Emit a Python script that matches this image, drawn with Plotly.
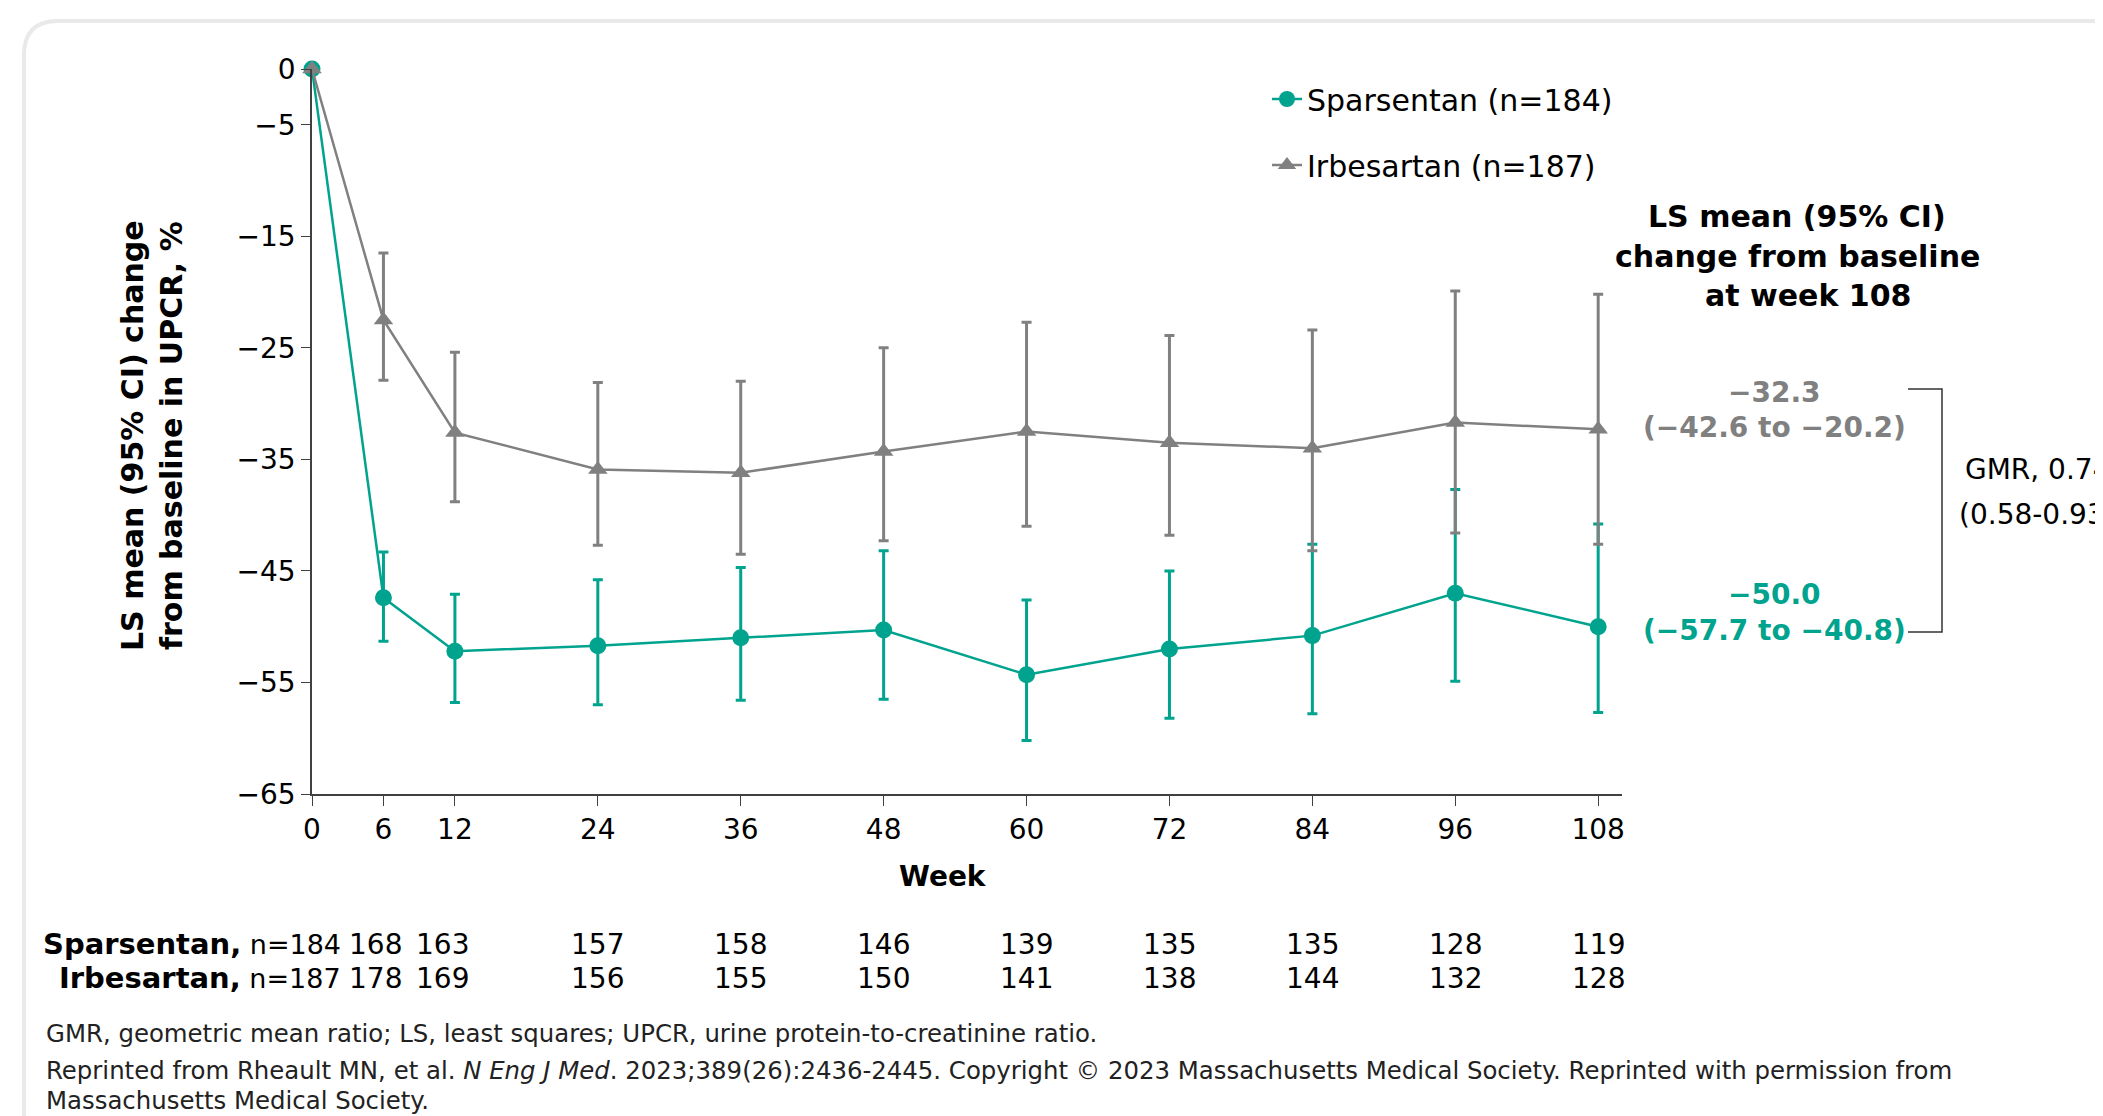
import plotly.graph_objects as go

# ---------------- data ----------------
weeks = [0, 6, 12, 24, 36, 48, 60, 72, 84, 96, 108]
week_ticks = [0, 6, 12, 24, 36, 48, 60, 72, 84, 96, 108]
y_ticks = [0, -5, -15, -25, -35, -45, -55, -65]

spars_mean = [0, -47.4, -52.2, -51.7, -51.0, -50.3, -54.3, -52.0, -50.8, -47.0, -50.0]
spars_ci_lo = [None, -51.3, -56.8, -57.0, -56.6, -56.5, -60.2, -58.2, -57.8, -54.9, -57.7]
spars_ci_hi = [None, -43.3, -47.1, -45.8, -44.7, -43.2, -47.6, -45.0, -42.6, -37.7, -40.8]

irb_mean = [0, -22.5, -32.6, -35.9, -36.2, -34.3, -32.5, -33.5, -34.0, -31.7, -32.3]
irb_ci_lo = [None, -27.9, -38.8, -42.7, -43.5, -42.3, -41.0, -41.8, -43.2, -41.6, -42.6]
irb_ci_hi = [None, -16.5, -25.4, -28.1, -28.0, -25.0, -22.7, -23.9, -23.4, -19.9, -20.2]

spars_n = [184, 168, 163, 157, 158, 146, 139, 135, 135, 128, 119]
irb_n = [187, 178, 169, 156, 155, 150, 141, 138, 144, 132, 128]

spars_name = "Sparsentan (n=184)"
irb_name = "Irbesartan (n=187)"

TEAL = "#00A38E"
GRAY = "#808080"
FONT = "Verdana, DejaVu Sans, sans-serif"

# ---------------- layout geometry (page pixels) ----------------
OFF = 8                      # default body margin of the html page
W, H = 2103 - OFF, 1116 - OFF
PL, PR, PT, PB = 312, 1622, 69, 794   # plot area in page pixels
L, R, T, B = PL - OFF, PR - OFF, PT - OFF, PB - OFF


def px(xp):
    return (xp - PL) / (PR - PL)


def py(yp):
    return (PB - yp) / (PB - PT)


def err(mean, lo, hi):
    plus = [None if h is None else h - m for m, h in zip(mean, hi)]
    minus = [None if l is None else m - l for m, l in zip(mean, lo)]
    return plus, minus


sp_plus, sp_minus = err(spars_mean, spars_ci_lo, spars_ci_hi)
ir_plus, ir_minus = err(irb_mean, irb_ci_lo, irb_ci_hi)

fig = go.Figure()
fig.add_trace(go.Scatter(
    x=weeks, y=spars_mean, name=spars_name, mode="lines+markers",
    line=dict(color=TEAL, width=2.5),
    marker=dict(symbol="circle", size=17, color=TEAL),
    error_y=dict(type="data", array=sp_plus, arrayminus=sp_minus, symmetric=False,
                 color=TEAL, thickness=3, width=5),
    cliponaxis=False, legendgroup="a",
))
fig.add_trace(go.Scatter(
    x=weeks, y=irb_mean, name=irb_name, mode="lines+markers",
    line=dict(color=GRAY, width=2.5),
    marker=dict(symbol="triangle-up", size=17, color=GRAY),
    error_y=dict(type="data", array=ir_plus, arrayminus=ir_minus, symmetric=False,
                 color=GRAY, thickness=3, width=5),
    cliponaxis=False, legendgroup="b",
))

ann = []
# y-axis title
ann.append(dict(text="<b>LS mean (95% CI) change</b><br><b>from baseline in UPCR, %</b>",
                xref="paper", yref="paper", x=px(152), y=py(436), textangle=-90,
                showarrow=False, font=dict(size=30, color="black"), xanchor="center",
                yanchor="middle", align="center"))
# x-axis title
ann.append(dict(text="<b>Week</b>", xref="paper", yref="paper", x=px(943), y=py(876),
                showarrow=False, font=dict(size=28, color="black"), xanchor="center", yanchor="middle"))

# right-hand header
for t, yy, xs in [("LS mean (95% CI)", 216, 0), ("change from baseline", 256, 0), ("at week 108", 295, 11)]:
    ann.append(dict(text="<b>" + t + "</b>", xref="paper", yref="paper", x=px(1797), y=py(yy),
                    xshift=xs, showarrow=False, font=dict(size=30, color="black"),
                    xanchor="center", yanchor="middle"))


def fmt(v):
    return ("−" if v < 0 else "") + f"{abs(v):.1f}"


for t, yy, col in [(fmt(irb_mean[-1]), 393, GRAY),
                   (f"({fmt(irb_ci_lo[-1])} to {fmt(irb_ci_hi[-1])})", 428, GRAY),
                   (fmt(spars_mean[-1]), 594, TEAL),
                   (f"({fmt(spars_ci_lo[-1])} to {fmt(spars_ci_hi[-1])})", 630, TEAL)]:
    ann.append(dict(text="<b>" + t + "</b>", xref="paper", yref="paper", x=px(1774), y=py(yy),
                    showarrow=False, font=dict(size=28, color=col), xanchor="center", yanchor="middle"))

for t, yy in [("GMR, 0.74", 469), ("(0.58-0.93)", 515)]:
    ann.append(dict(text=t, xref="paper", yref="paper", x=px(2037), y=py(yy),
                    showarrow=False, font=dict(size=28, color="black"), xanchor="center", yanchor="middle"))

# numbers at risk table
shift = {6: -8, 12: -12}
for label, counts, yy in [("Sparsentan,", spars_n, 944), ("Irbesartan,", irb_n, 978)]:
    ann.append(dict(text=f"<b><span style='font-size:29px'>{label}</span></b> n={counts[0]}",
                    xref="x", yref="paper", x=weeks[0],
                    y=py(yy), xshift=31, showarrow=False, font=dict(size=27, color="black"),
                    xanchor="right", yanchor="middle"))
    for w, c in zip(weeks[1:], counts[1:]):
        ann.append(dict(text=str(c), xref="x", yref="paper", x=w, y=py(yy),
                        xshift=shift.get(w, 0), showarrow=False,
                        font=dict(size=28, color="black"), xanchor="center", yanchor="middle"))

# footnotes
for t, yy in [("GMR, geometric mean ratio; LS, least squares; UPCR, urine protein-to-creatinine ratio.", 1033),
              ("Reprinted from Rheault MN, et al. <i>N Eng J Med</i>. 2023;389(26):2436-2445. Copyright © 2023 "
               "Massachusetts Medical Society. Reprinted with permission from", 1070),
              ("Massachusetts Medical Society.", 1100)]:
    ann.append(dict(text=t, xref="paper", yref="paper", x=px(44), y=py(yy), showarrow=False,
                    font=dict(size=24.4, color="#222222"), xanchor="left", yanchor="middle"))

shapes = []
# card frame (rounded top-left corner)
x0, y0, r = 24, 21, 34
shapes.append(dict(type="path", xref="paper", yref="paper",
                   path=f"M {px(x0)},{py(1130)} L {px(x0)},{py(y0 + r)} "
                        f"Q {px(x0)},{py(y0)} {px(x0 + r)},{py(y0)} L {px(2120)},{py(y0)}",
                   line=dict(color="#e9e9e9", width=4)))
# bracket
shapes.append(dict(type="path", xref="paper", yref="paper",
                   path=f"M {px(1908)},{py(389)} L {px(1942)},{py(389)} L {px(1942)},{py(632)} L {px(1908)},{py(632)}",
                   line=dict(color="#333333", width=1.5)))

fig.update_layout(
    width=W, height=H,
    margin=dict(l=L, r=W - R, t=T, b=H - B, pad=0),
    paper_bgcolor="white", plot_bgcolor="white",
    font=dict(family=FONT, size=28, color="black"),
    showlegend=True,
    legend=dict(x=px(1267), y=py(73), xanchor="left", yanchor="top",
                font=dict(size=30, color="black"), traceorder="grouped", tracegroupgap=24,
                bgcolor="rgba(0,0,0,0)", itemwidth=30),
    annotations=ann, shapes=shapes,
    xaxis=dict(range=[0, 110], tickvals=week_ticks, ticktext=[str(w) for w in week_ticks],
               showgrid=False, zeroline=False, showline=True, linecolor="#404040", linewidth=1.5,
               ticks="outside", ticklen=10, tickwidth=1.2, tickcolor="#404040",
               tickfont=dict(size=28)),
    yaxis=dict(range=[-65, 0], tickvals=y_ticks, showgrid=False, zeroline=False, showline=True,
               linecolor="#404040", linewidth=1.5, ticks="outside", ticklen=9, tickwidth=1.2,
               tickcolor="#404040", tickfont=dict(size=28)),
)

fig.write_html("out.html")
